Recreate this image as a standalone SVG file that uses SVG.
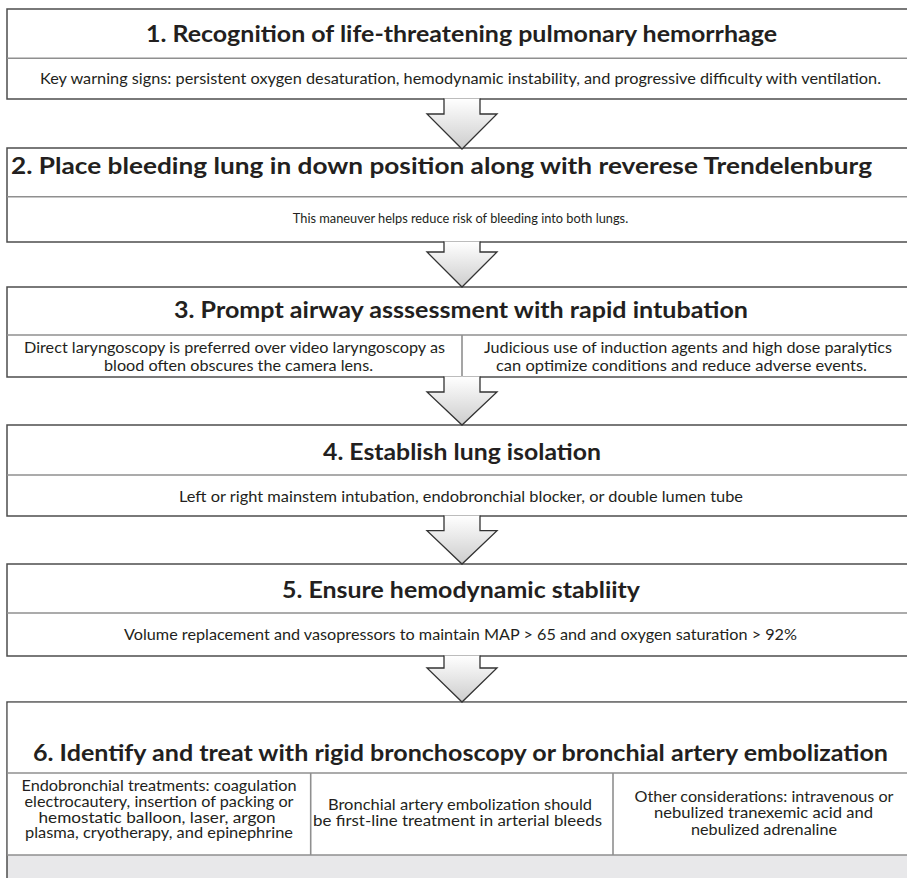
<svg xmlns="http://www.w3.org/2000/svg" width="907" height="878" viewBox="0 0 907 878">
<defs>
<linearGradient id="ag" x1="0" y1="0" x2="0" y2="1">
<stop offset="0" stop-color="#ffffff"/>
<stop offset="1" stop-color="#cdcdcd"/>
</linearGradient>
<style>
.box{fill:#ffffff;stroke:#4d4d4d;stroke-width:1.5}
.div{stroke:#8f8f8f;stroke-width:1.6;fill:none}
.hd{font-family:Lato,"Open Sans","Liberation Sans",sans-serif;font-weight:bold;font-size:22px;fill:#231f20}
.bd{font-family:Lato,"Open Sans","Liberation Sans",sans-serif;font-size:16px;fill:#231f20}
.sm{font-size:12.8px}
.arr{fill:url(#ag);stroke:#333333;stroke-width:1.3;stroke-linejoin:miter}
</style>
</defs>
<rect width="907" height="878" fill="#ffffff"/>

<g id="node1">
<rect class="box" x="7" y="9" width="910" height="90"/>
<line class="div" x1="7" y1="58.3" x2="917" y2="58.3"/>
<text class="hd" x="146" y="41.7" textLength="631" lengthAdjust="spacingAndGlyphs">1. Recognition of life-threatening pulmonary hemorrhage</text>
<text class="bd" x="40" y="83.5" textLength="841" lengthAdjust="spacingAndGlyphs">Key warning signs: persistent oxygen desaturation, hemodynamic instability, and progressive difficulty with ventilation.</text>
</g>

<g id="node2">
<rect class="box" x="7" y="148" width="910" height="94"/>
<line class="div" x1="7" y1="196.7" x2="917" y2="196.7" stroke="#aaaaaa"/>
<text class="hd" x="11" y="173.5" textLength="861" lengthAdjust="spacingAndGlyphs">2. Place bleeding lung in down position along with reverese Trendelenburg</text>
<text class="bd sm" x="460.5" y="223" text-anchor="middle">This maneuver helps reduce risk of bleeding into both lungs.</text>
</g>

<g id="node3">
<rect class="box" x="7" y="287" width="910" height="90"/>
<line class="div" x1="7" y1="335" x2="917" y2="335"/>
<line class="div" x1="462" y1="335" x2="462" y2="377"/>
<text class="hd" x="174" y="317.7" textLength="574" lengthAdjust="spacingAndGlyphs">3. Prompt airway asssessment with rapid intubation</text>
<text class="bd" x="24" y="353" textLength="421" lengthAdjust="spacingAndGlyphs">Direct laryngoscopy is preferred over video laryngoscopy as</text>
<text class="bd" x="104" y="370.7" textLength="269" lengthAdjust="spacingAndGlyphs">blood often obscures the camera lens.</text>
<text class="bd" x="484" y="353" textLength="408" lengthAdjust="spacingAndGlyphs">Judicious use of induction agents and high dose paralytics</text>
<text class="bd" x="496" y="370.7" textLength="371" lengthAdjust="spacingAndGlyphs">can optimize conditions and reduce adverse events.</text>
</g>

<g id="node4">
<rect class="box" x="7" y="425" width="910" height="91"/>
<line class="div" x1="7" y1="475" x2="917" y2="475"/>
<text class="hd" x="323" y="460" textLength="278" lengthAdjust="spacingAndGlyphs">4. Establish lung isolation</text>
<text class="bd" x="179" y="501.7" textLength="564" lengthAdjust="spacingAndGlyphs">Left or right mainstem intubation, endobronchial blocker, or double lumen tube</text>
</g>

<g id="node5">
<rect class="box" x="7" y="564" width="910" height="92"/>
<line class="div" x1="7" y1="613" x2="917" y2="613"/>
<text class="hd" x="282" y="598.3" textLength="358" lengthAdjust="spacingAndGlyphs">5. Ensure hemodynamic stabliity</text>
<text class="bd" x="124" y="640" textLength="673" lengthAdjust="spacingAndGlyphs">Volume replacement and vasopressors to maintain MAP &gt; 65 and and oxygen saturation &gt; 92%</text>
</g>

<g id="node6">
<rect x="7" y="702" width="910" height="190" fill="#e8e8ea" stroke="#4d4d4d" stroke-width="1.5"/>
<rect x="7.8" y="702.8" width="909" height="152.2" fill="#ffffff"/>
<line class="div" x1="7" y1="773" x2="917" y2="773" stroke="#aaaaaa"/>
<line class="div" x1="7" y1="855" x2="917" y2="855" stroke="#aaaaaa"/>
<line class="div" x1="310.7" y1="773" x2="310.7" y2="855"/>
<line class="div" x1="613" y1="773" x2="613" y2="855"/>
<text class="hd" x="33" y="761" textLength="855" lengthAdjust="spacingAndGlyphs">6. Identify and treat with rigid bronchoscopy or bronchial artery embolization</text>
<text class="bd" x="159" y="790.7" text-anchor="middle" textLength="275" lengthAdjust="spacingAndGlyphs">Endobronchial treatments: coagulation</text>
<text class="bd" x="159" y="806.7" text-anchor="middle" textLength="269" lengthAdjust="spacingAndGlyphs">electrocautery, insertion of packing or</text>
<text class="bd" x="157" y="822.5" text-anchor="middle" textLength="237" lengthAdjust="spacingAndGlyphs">hemostatic balloon, laser, argon</text>
<text class="bd" x="159" y="838.3" text-anchor="middle" textLength="268" lengthAdjust="spacingAndGlyphs">plasma, cryotherapy, and epinephrine</text>
<text class="bd" x="460" y="810" text-anchor="middle" textLength="264" lengthAdjust="spacingAndGlyphs">Bronchial artery embolization should</text>
<text class="bd" x="457.5" y="826.3" text-anchor="middle" textLength="289" lengthAdjust="spacingAndGlyphs">be first-line treatment in arterial bleeds</text>
<text class="bd" x="764" y="801.7" text-anchor="middle" textLength="259" lengthAdjust="spacingAndGlyphs">Other considerations: intravenous or</text>
<text class="bd" x="763.5" y="818.3" text-anchor="middle" textLength="219" lengthAdjust="spacingAndGlyphs">nebulized tranexemic acid  and</text>
<text class="bd" x="764" y="835" text-anchor="middle" textLength="146" lengthAdjust="spacingAndGlyphs">nebulized adrenaline</text>
</g>

<g id="connectors">
<path class="arr" d="M444,98.5 V114 H427 L462,149 L497,114 H480 V98.5"/>
<path class="arr" d="M444,241.5 V252 H427 L462,287 L497,252 H480 V241.5"/>
<path class="arr" d="M444,376.5 V392 H427 L462,425 L497,392 H480 V376.5"/>
<path class="arr" d="M444,515.5 V530.7 H427 L462,564 L497,530.7 H480 V515.5"/>
<path class="arr" d="M444,655.5 V668 H427 L462,702 L497,668 H480 V655.5"/>
</g>
</svg>
